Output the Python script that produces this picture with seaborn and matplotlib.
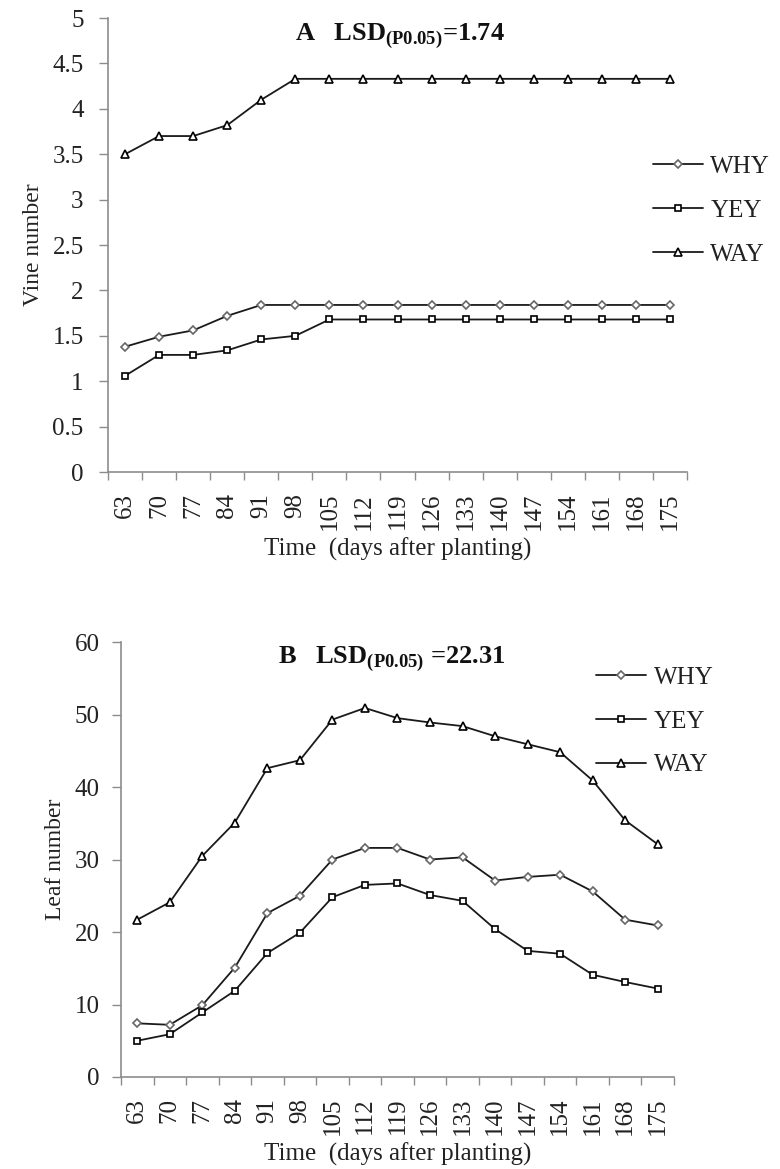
import numpy as np
import pandas as pd
import matplotlib
matplotlib.use("Agg")
import matplotlib.pyplot as plt
import seaborn as sns

days = ["63", "70", "77", "84", "91", "98", "105", "112", "119",
        "126", "133", "140", "147", "154", "161", "168", "175"]
series_names = ["WHY", "YEY", "WAY"]

# Panel A - vine number
vine_why = [1.38, 1.49, 1.56, 1.72, 1.84, 1.84, 1.84, 1.84, 1.84,
            1.84, 1.84, 1.84, 1.84, 1.84, 1.84, 1.84, 1.84]
vine_yey = [1.06, 1.29, 1.29, 1.34, 1.46, 1.50, 1.68, 1.68, 1.68,
            1.68, 1.68, 1.68, 1.68, 1.68, 1.68, 1.68, 1.68]
vine_way = [3.50, 3.70, 3.70, 3.82, 4.10, 4.33, 4.33, 4.33, 4.33,
            4.33, 4.33, 4.33, 4.33, 4.33, 4.33, 4.33, 4.33]

# Panel B - leaf number
leaf_why = [7.4, 7.2, 9.9, 15.1, 22.6, 25.0, 30.0, 31.6, 31.6,
            30.0, 30.3, 27.1, 27.6, 27.9, 25.6, 21.7, 20.9]
leaf_yey = [5.0, 5.9, 8.9, 11.9, 17.1, 19.9, 24.8, 26.5, 26.7,
            25.1, 24.3, 20.4, 17.4, 17.0, 14.1, 13.1, 12.2]
leaf_way = [21.7, 24.1, 30.5, 35.1, 42.6, 43.7, 49.3, 50.9, 49.5,
            48.9, 48.4, 47.0, 45.9, 44.8, 40.9, 35.4, 32.1]

sns.set_theme(style="white")
plt.rcParams["font.family"] = ["Liberation Serif", "DejaVu Serif"]
plt.rcParams["mathtext.fontset"] = "custom"
plt.rcParams["mathtext.rm"] = "Liberation Serif"
plt.rcParams["mathtext.bf"] = "Liberation Serif:bold"

markers = {"WHY": "D", "YEY": "s", "WAY": "^"}
msizes = {"WHY": 4, "YEY": 5, "WAY": 6}
medges = {"WHY": "#666666", "YEY": "black", "WAY": "black"}
axis_grey = "#8c8c8c"
txt = "#222222"


def make_df(why, yey, way):
    frames = []
    for name, vals in zip(series_names, [why, yey, way]):
        frames.append(pd.DataFrame({"day": days, "value": vals, "series": name}))
    return pd.concat(frames, ignore_index=True)


def draw_panel(ax, df, ylim, yticks, yticklabels, ylabel, title, opts):
    for name in series_names:
        sub = df[df["series"] == name]
        sns.lineplot(data=sub, x="day", y="value", ax=ax, color="#1a1a1a",
                     linewidth=1.3, marker=markers[name], markersize=msizes[name],
                     markerfacecolor="white", markeredgecolor=medges[name],
                     markeredgewidth=1.2, label=name, sort=False)
    ax.set_xlim(-0.5, len(days) - 0.5)
    ax.set_ylim(*ylim)
    ax.set_yticks(yticks)
    ax.set_yticklabels(yticklabels)
    ax.set_xticks(range(len(days)))
    ax.set_xticklabels(days, rotation=90)
    ax.set_xticks(np.arange(-0.5, len(days), 1.0), minor=True)
    ax.tick_params(axis="x", which="major", length=0, pad=15, labelsize=18, colors=txt)
    ax.tick_params(axis="x", which="minor", length=6, width=1, color=axis_grey, bottom=True)
    ax.tick_params(axis="y", length=6.5, width=1, color=axis_grey, left=True,
                   labelsize=18, labelcolor=txt, pad=opts["ypad"])
    for side in ["top", "right"]:
        ax.spines[side].set_visible(False)
    for side in ["left", "bottom"]:
        ax.spines[side].set_color(axis_grey)
        ax.spines[side].set_linewidth(1.2)
    ax.set_xlabel("Time  (days after planting)", fontsize=18, color=txt, labelpad=5)
    ax.set_ylabel(ylabel, fontsize=17, color=txt, labelpad=6)
    ax.text(opts["title_x"], opts["title_y"], title, transform=ax.transAxes,
            ha="center", va="center", fontsize=19, fontweight="bold", color="#111111")
    leg = ax.legend(loc="upper left", bbox_to_anchor=opts["anchor"], frameon=False,
                    fontsize=18, handlelength=2.0, handletextpad=0.3, labelspacing=0.85,
                    borderaxespad=0, borderpad=0)
    for t in leg.get_texts():
        t.set_color(txt)
    return ax


fig = plt.figure(figsize=(7.8, 11.69), dpi=100)
ax_a = fig.add_axes([0.1385, 0.5962, 0.7423, 0.3884])
ax_b = fig.add_axes([0.1551, 0.0787, 0.7090, 0.3721])

draw_panel(ax_a, make_df(vine_why, vine_yey, vine_way), (0, 5),
           np.arange(0, 5.01, 0.5), ["0", "0.5", "1", "1.5", "2", "2.5", "3", "3.5", "4", "4.5", "5"],
           "Vine number", r"A   LSD$_{\mathbf{(P0.05)}}$=1.74",
           {"anchor": (0.941, 0.697), "title_x": 0.504, "title_y": 0.96, "ypad": 11})
draw_panel(ax_b, make_df(leaf_why, leaf_yey, leaf_way), (0, 60),
           np.arange(0, 61, 10), [str(v) for v in range(0, 61, 10)],
           "Leaf number", r"B   LSD$_{\mathbf{(P0.05)}}$ =22.31",
           {"anchor": (0.859, 0.944), "title_x": 0.49, "title_y": 0.96, "ypad": 9})

fig.savefig("out.png", dpi=100)
